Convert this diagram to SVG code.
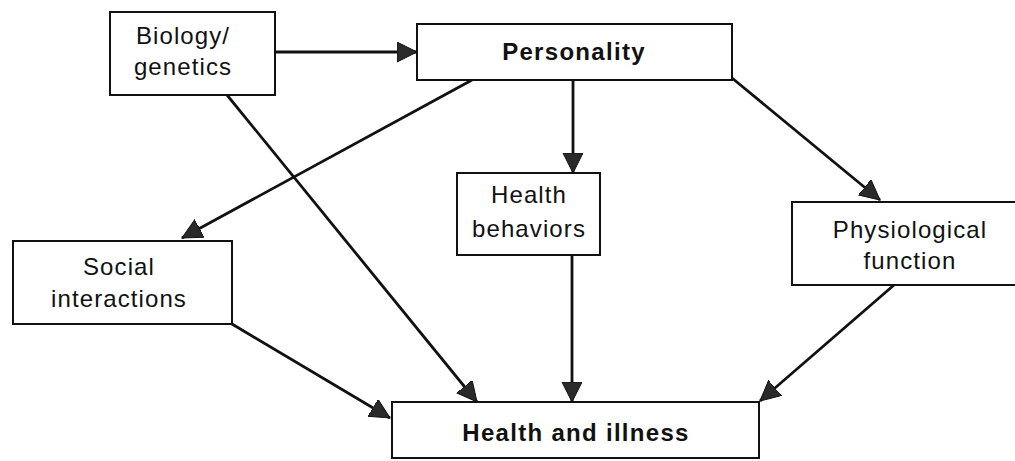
<svg xmlns="http://www.w3.org/2000/svg" width="1015" height="461" viewBox="0 0 1015 461">
<style>
.box{fill:#fff;stroke:#111;stroke-width:2}
.t{font-family:"Liberation Sans",Arial,sans-serif;font-size:24px;fill:#111;text-anchor:middle;letter-spacing:1.1px}
.b{font-weight:bold;font-size:24px;letter-spacing:1.3px}
.c{stroke:#111;stroke-width:2.8;fill:none;marker-end:url(#ah)}
</style>
<defs>
<marker id="ah" markerUnits="userSpaceOnUse" markerWidth="24" markerHeight="22" refX="20" refY="10" orient="auto">
<path d="M0,0 L20,10 L0,20 Z" fill="#2a2a2a" stroke="#111" stroke-width="1"/>
</marker>
</defs>
<rect width="1015" height="461" fill="#fff"/>
<g id="connectors">
<line class="c" x1="275" y1="52" x2="417" y2="52"/>
<line class="c" x1="227" y1="95" x2="477" y2="402"/>
<line class="c" x1="472" y1="80" x2="182" y2="238"/>
<line class="c" x1="573" y1="80" x2="573" y2="173"/>
<line class="c" x1="732" y1="78" x2="880" y2="200"/>
<line class="c" x1="232" y1="324" x2="390" y2="418"/>
<line class="c" x1="572" y1="255" x2="572" y2="402"/>
<line class="c" x1="894" y1="285" x2="760" y2="401"/>
</g>
<g id="biology">
<rect class="box" x="110" y="12" width="165" height="83"/>
<text class="t" x="183" y="44">Biology/</text>
<text class="t" x="183" y="75">genetics</text>
</g>
<g id="personality">
<rect class="box" x="417" y="24" width="315" height="56"/>
<text class="t b" x="574" y="60">Personality</text>
</g>
<g id="social">
<rect class="box" x="13" y="241" width="219" height="83"/>
<text class="t" x="119" y="275">Social</text>
<text class="t" x="119" y="307">interactions</text>
</g>
<g id="behaviors">
<rect class="box" x="457" y="173" width="143" height="82"/>
<text class="t" x="529" y="203">Health</text>
<text class="t" x="529" y="237">behaviors</text>
</g>
<g id="physiological">
<rect class="box" x="792" y="202" width="230" height="83"/>
<text class="t" x="910" y="238">Physiological</text>
<text class="t" x="910" y="269">function</text>
</g>
<g id="health">
<rect class="box" x="392" y="402" width="367" height="56"/>
<text class="t b" x="576" y="441">Health and illness</text>
</g>
</svg>
